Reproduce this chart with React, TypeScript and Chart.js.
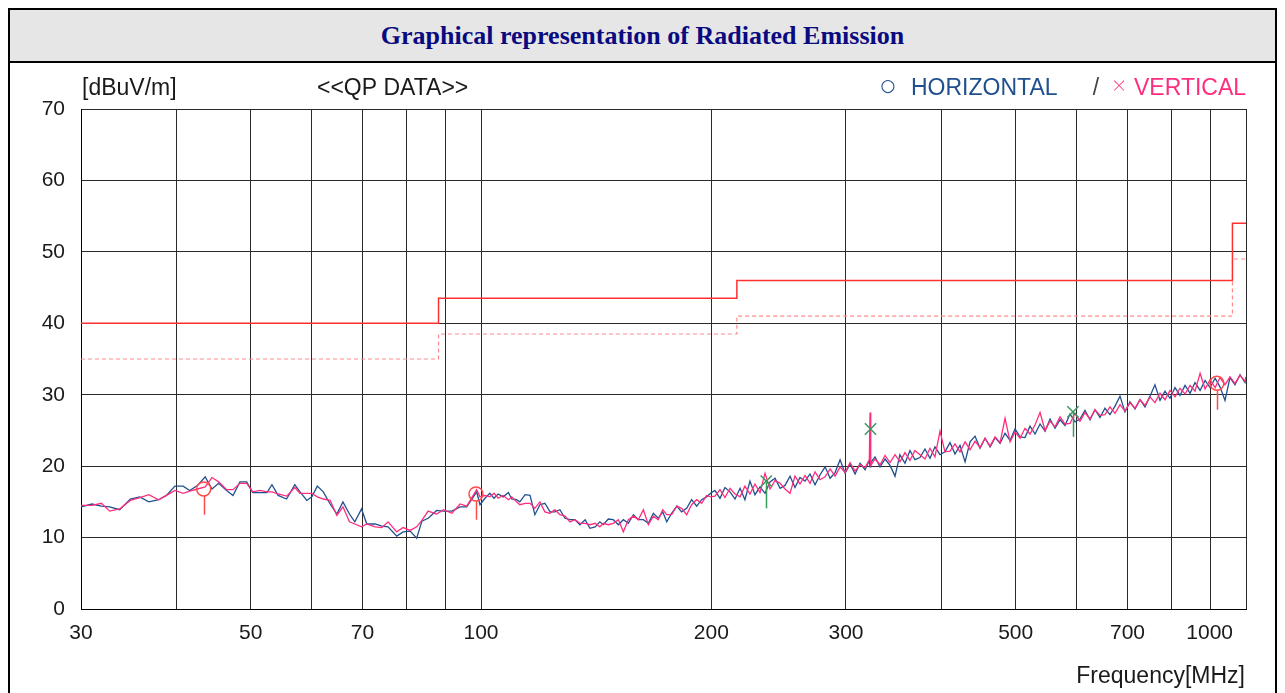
import React, { useEffect, useRef } from 'react';
import { Chart, registerables } from 'chart.js';

Chart.register(...registerables);

const TITLE = 'Graphical representation of Radiated Emission';
const UNIT_LABEL = '[dBuV/m]';
const MODE_LABEL = '<<QP DATA>>';
const X_TITLE = 'Frequency[MHz]';

const FREQ = [
  30.0, 31.0, 31.9, 32.7, 33.7, 34.8, 35.8, 36.8, 37.9, 38.8, 39.8, 40.8, 41.6, 42.6, 43.6, 44.5, 45.4, 46.5, 47.4, 48.4,
  49.4, 50.3, 51.4, 52.5, 53.3, 54.3, 55.7, 57.1, 58.0, 59.2, 60.1, 61.1, 62.2, 63.5, 64.8, 66.0, 67.3, 68.4, 69.8, 70.9,
  72.7, 74.2, 75.6, 77.6, 79.1, 80.8, 82.4, 83.7, 85.3, 87.5, 89.3, 91.6, 93.9, 95.8,
  98.7, 99.7, 101.2, 102.7, 104.0, 105.3, 106.9, 108.6, 109.7, 111.3, 112.4, 114.2, 115.9, 117.6, 119.4, 121.2, 123.1, 124.9, 126.8, 128.8,
  130.7, 132.7, 134.7, 136.8, 138.8, 141.0, 143.0, 144.5, 146.7, 148.9, 151.2, 153.5, 155.8, 158.2, 160.6, 163.0, 165.5, 168.0, 170.5, 172.8,
  174.9, 177.5, 180.3, 182.9, 185.7, 188.5, 191.4, 194.3, 197.2, 199.6,
  202.2, 205.3, 208.4, 211.6, 214.8, 218.1, 221.3, 224.7, 228.1, 231.6, 235.1, 238.7, 242.3, 246.0, 249.7, 253.5, 257.3, 261.2, 265.2, 269.2,
  273.3, 277.5, 281.7, 286.0, 290.3, 294.7, 299.2, 303.7, 308.3, 313.0, 317.7,
  321.8, 322.5, 323.2,
  327.4, 332.4, 337.4, 342.5, 347.7, 352.9, 358.3, 363.7, 369.2, 374.8, 380.5, 386.3, 392.1, 398.1, 404.1, 410.3, 416.5, 422.8, 429.3, 435.8,
  442.4, 449.1, 455.9, 462.9, 469.9, 477.0, 484.2, 491.6, 499.0, 506.6, 514.2, 522.0, 530.0, 538.0, 546.2, 554.4, 562.8, 571.4, 580.0, 588.8,
  597.7, 606.7, 615.9, 625.3, 634.7, 644.4, 654.1, 664.0, 674.2, 684.4, 694.7, 705.3, 716.0, 726.8, 737.9, 749.0, 760.3, 772.0, 783.6, 795.6,
  807.6, 819.8, 832.4, 845.0, 857.8, 870.9, 884.1, 897.4, 911.2, 924.7, 938.7, 953.0, 967.4, 982.2, 997.0, 1000.0,
];

const HORIZONTAL = [
  14.3, 14.7, 14.4, 14.3, 13.9, 15.4, 15.7, 15.0, 15.3, 15.9, 17.2, 17.2, 16.6, 17.3, 18.5, 16.8, 17.6, 16.6, 15.9, 17.8,
  17.8, 16.3, 16.3, 16.3, 17.4, 15.9, 15.4, 17.4, 16.4, 15.2, 15.7, 17.2, 16.4, 14.7, 13.3, 15.0, 13.3, 12.2, 14.0, 11.9,
  11.9, 11.6, 11.5, 10.2, 10.8, 10.9, 9.9, 12.3, 12.7, 13.8, 13.7, 13.7, 14.3, 14.3,
  16.4, 14.6, 15.5, 16.2, 15.5, 16.1, 15.7, 16.3, 15.4, 15.3, 15.0, 16.0, 15.9, 13.2, 14.6, 14.8, 13.6, 13.6, 13.9, 12.7,
  12.5, 12.5, 11.8, 12.5, 11.3, 11.5, 12.2, 11.8, 12.6, 12.5, 11.8, 12.5, 12.0, 13.2, 12.5, 12.5, 12.0, 13.4, 12.7, 13.6,
  12.2, 13.4, 14.4, 13.6, 14.1, 15.3, 14.4, 15.3, 15.7, 16.2,
  16.6, 15.5, 17.0, 16.4, 15.4, 16.9, 15.3, 17.9, 16.0, 17.1, 16.2, 17.8, 18.3, 16.9, 17.3, 18.6, 17.0, 18.4, 17.9, 18.9,
  17.4, 18.8, 19.9, 18.3, 19.1, 20.9, 19.0, 20.3, 18.9, 20.4, 19.5,
  20.8, 19.9, 20.5,
  21.3, 19.9, 21.0, 20.1, 18.6, 21.6, 20.4, 22.2, 20.9, 21.2, 22.4, 21.1, 22.7, 21.6, 22.0, 23.3, 21.7, 22.9, 20.6, 23.4,
  24.2, 22.5, 23.9, 22.7, 24.0, 23.2, 24.6, 23.6, 25.2, 24.1, 24.0, 25.6, 24.5, 25.9, 24.9, 26.6, 25.3, 26.5, 25.7, 27.3,
  26.2, 26.6, 27.8, 26.5, 27.9, 26.8, 28.1, 27.2, 28.4, 29.8, 27.6, 29.0, 28.0, 29.3, 28.3, 29.8, 31.4, 29.2, 30.5, 29.5,
  31.0, 29.9, 31.3, 30.2, 31.7, 30.6, 32.0, 31.0, 32.3, 31.1, 29.2, 32.4, 31.4, 32.8, 31.7, 32.5,
];

const VERTICAL = [
  14.5, 14.5, 14.8, 13.7, 14.0, 15.2, 15.6, 16.0, 15.3, 15.9, 16.6, 16.2, 16.5, 16.8, 17.1, 18.4, 17.8, 16.7, 16.7, 17.6,
  17.6, 16.4, 16.6, 16.4, 16.4, 16.1, 15.8, 17.0, 16.2, 16.2, 16.2, 15.7, 15.4, 15.2, 13.1, 14.3, 12.2, 11.9, 11.5, 11.9,
  11.5, 11.4, 12.2, 10.8, 11.4, 11.0, 11.5, 12.4, 13.7, 13.3, 13.9, 13.4, 14.7, 14.4,
  16.7, 15.7, 15.9, 15.7, 16.2, 15.5, 15.9, 15.3, 15.7, 15.0, 14.6, 14.8, 14.8, 14.1, 15.0, 13.6, 13.4, 13.9, 13.2, 13.0,
  12.2, 12.5, 12.0, 12.0, 11.8, 12.0, 11.5, 12.0, 11.8, 12.0, 12.5, 10.8, 12.5, 13.0, 12.5, 13.9, 11.8, 13.0, 12.5, 13.9,
  13.2, 13.2, 14.4, 14.1, 13.2, 14.6, 15.3, 14.8, 15.9, 15.7,
  15.8, 16.7, 15.6, 16.9, 16.1, 15.7, 17.2, 16.1, 17.5, 16.3, 19.0, 16.8, 18.0, 17.6, 16.8, 16.2, 18.6, 17.5, 18.7, 17.6,
  19.2, 18.1, 18.5, 19.6, 18.6, 19.9, 19.1, 20.5, 19.3, 20.2, 19.8,
  20.9, 27.5, 20.1,
  21.0, 20.2, 21.5, 20.5, 21.6, 20.6, 21.9, 20.8, 22.2, 21.6, 21.0, 22.5, 21.3, 24.9, 22.0, 22.1, 23.1, 22.0, 23.4, 22.3,
  23.5, 22.6, 23.9, 22.8, 24.1, 23.3, 26.7, 23.4, 24.8, 23.9, 25.3, 24.5, 25.8, 27.5, 25.0, 26.3, 25.5, 26.9, 25.9, 26.0,
  27.4, 26.3, 27.5, 26.6, 27.9, 27.1, 27.2, 28.3, 27.4, 28.6, 27.7, 28.9, 28.1, 29.3, 28.5, 29.7, 28.9, 30.2, 29.3, 30.6,
  29.7, 30.9, 30.1, 31.3, 30.5, 33.0, 30.8, 32.1, 31.0, 32.4, 31.4, 32.5, 31.6, 32.7, 31.9, 32.4,
];

const LIMIT_FREQ = [30, 88, 216, 960, 1000];
const LIMIT_QP = [40, 43.5, 46, 54, 54];
const LIMIT_MARGIN = [35, 38.5, 41, 49, 49];

const PEAK_H_FREQ = [43.4, 98.5, 916];
const PEAK_H_VAL = [16.8, 16.1, 31.6];
const PEAK_H_LOW = [13.2, 12.5, 27.9];

const PEAK_V_FREQ = [236, 323, 594];
const PEAK_V_VAL = [17.9, 25.2, 27.6];
const PEAK_V_LOW = [14.1, 25.2, 24.1];

const X_GRID = [30, 40, 50, 60, 70, 80, 90, 100, 200, 300, 400, 500, 600, 700, 800, 900, 1000];
const X_LABELS = [30, 50, 70, 100, 200, 300, 500, 700, 1000];
const Y_MIN = 0;
const Y_MAX = 70;
const Y_STEP = 10;

const SANS = '"Liberation Sans", Arial, Helvetica, sans-serif';
const H_COLOR = '#21508f';
const V_COLOR = '#ff2d7e';
const LIMIT_COLOR = '#ff3030';
const MARGIN_COLOR = '#ff8c8c';
const PEAK_H_COLOR = '#ff4a4a';
const PEAK_V_COLOR = '#3a9a5e';

const CANVAS_W = 1265;
const CANVAS_H = 630;

const stemsPlugin = {
  id: 'stems',
  afterDatasetsDraw(chart: any) {
    const { ctx, scales } = chart;
    const xs = scales.x;
    const ys = scales.y;
    ctx.save();
    ctx.lineWidth = 1.5;
    ctx.strokeStyle = PEAK_H_COLOR;
    PEAK_H_FREQ.forEach((f, i) => {
      const px = Math.round(xs.getPixelForValue(f)) + 0.5;
      ctx.beginPath();
      ctx.moveTo(px, ys.getPixelForValue(PEAK_H_VAL[i]) + 7);
      ctx.lineTo(px, ys.getPixelForValue(PEAK_H_LOW[i]));
      ctx.stroke();
    });
    ctx.strokeStyle = PEAK_V_COLOR;
    PEAK_V_FREQ.forEach((f, i) => {
      if (PEAK_V_LOW[i] >= PEAK_V_VAL[i]) return;
      const px = Math.round(xs.getPixelForValue(f)) + 0.5;
      ctx.beginPath();
      ctx.moveTo(px, ys.getPixelForValue(PEAK_V_VAL[i]));
      ctx.lineTo(px, ys.getPixelForValue(PEAK_V_LOW[i]));
      ctx.stroke();
    });
    ctx.restore();
  },
};

const textPlugin = {
  id: 'extraText',
  afterDraw(chart: any) {
    const { ctx, chartArea: ca, scales } = chart;
    ctx.save();
    ctx.textBaseline = 'middle';
    ctx.font = `23px ${SANS}`;
    const ty = ca.top - 20;
    ctx.fillStyle = '#1a1a1a';
    ctx.textAlign = 'left';
    ctx.fillText(UNIT_LABEL, ca.left + 1, ty);
    ctx.fillText(MODE_LABEL, ca.left + 236, ty);

    ctx.fillStyle = H_COLOR;
    ctx.font = `17px "DejaVu Sans", ${SANS}`;
    ctx.textAlign = 'center';
    ctx.fillText('○', ca.right - 358, ty - 2);
    ctx.font = `23px ${SANS}`;
    ctx.textAlign = 'left';
    ctx.fillText('HORIZONTAL', ca.right - 335, ty);

    ctx.fillStyle = '#444';
    ctx.textAlign = 'center';
    ctx.fillText('/', ca.right - 150, ty);
    ctx.fillStyle = V_COLOR;
    ctx.font = `200 24px "Noto Sans", ${SANS}`;
    ctx.fillText('×', ca.right - 127, ty - 2);
    ctx.font = `23px ${SANS}`;
    ctx.textAlign = 'left';
    ctx.fillText('VERTICAL', ca.right - 112, ty);

    // x tick labels
    ctx.fillStyle = '#1a1a1a';
    ctx.font = `21px ${SANS}`;
    const ly = ca.bottom + 24;
    X_LABELS.forEach((v, i) => {
      const px = scales.x.getPixelForValue(v);
      if (i === X_LABELS.length - 1) {
        ctx.textAlign = 'right';
        ctx.fillText(String(v), px - 13, ly);
      } else {
        ctx.textAlign = 'center';
        ctx.fillText(String(v), px, ly);
      }
    });

    ctx.font = `23px ${SANS}`;
    ctx.textAlign = 'right';
    ctx.fillText(X_TITLE, ca.right - 1, ca.bottom + 68);
    ctx.restore();
  },
};

export default function App() {
  const canvasRef = useRef<HTMLCanvasElement | null>(null);

  useEffect(() => {
    document.documentElement.style.overflow = 'hidden';
    document.body.style.overflow = 'hidden';
    const canvas = canvasRef.current;
    if (!canvas) return;
    const n = Math.min(FREQ.length, HORIZONTAL.length, VERTICAL.length);
    const hData = [] as { x: number; y: number }[];
    const vData = [] as { x: number; y: number }[];
    for (let i = 0; i < n; i++) {
      hData.push({ x: FREQ[i], y: HORIZONTAL[i] });
      vData.push({ x: FREQ[i], y: VERTICAL[i] });
    }
    const limData = LIMIT_FREQ.map((f, i) => ({ x: f, y: LIMIT_QP[i] }));
    const marData = LIMIT_FREQ.map((f, i) => ({ x: f, y: LIMIT_MARGIN[i] }));
    const pkH = PEAK_H_FREQ.map((f, i) => ({ x: f, y: PEAK_H_VAL[i] }));
    const pkV = PEAK_V_FREQ.map((f, i) => ({ x: f, y: PEAK_V_VAL[i] }));

    const chart = new Chart(canvas, {
      type: 'line',
      data: {
        datasets: [
          {
            label: 'H peaks',
            data: pkH,
            showLine: false,
            pointStyle: 'circle',
            pointRadius: 7,
            pointBorderWidth: 1.5,
            pointBorderColor: PEAK_H_COLOR,
            pointBackgroundColor: 'rgba(0,0,0,0)',
            borderColor: PEAK_H_COLOR,
            order: 0,
          },
          {
            label: 'V peaks',
            data: pkV,
            showLine: false,
            pointStyle: 'crossRot',
            pointRadius: 8,
            pointBorderWidth: 1.5,
            pointBorderColor: PEAK_V_COLOR,
            borderColor: PEAK_V_COLOR,
            order: 0,
          },
          {
            label: 'VERTICAL',
            data: vData,
            borderColor: V_COLOR,
            borderWidth: 1.3,
            pointRadius: 0,
            tension: 0,
            order: 1,
          },
          {
            label: 'HORIZONTAL',
            data: hData,
            borderColor: H_COLOR,
            borderWidth: 1.3,
            pointRadius: 0,
            tension: 0,
            order: 2,
          },
          {
            label: 'Limit',
            data: limData,
            borderColor: LIMIT_COLOR,
            borderWidth: 1.5,
            pointRadius: 0,
            stepped: true,
            order: 3,
          },
          {
            label: 'Margin',
            data: marData,
            borderColor: MARGIN_COLOR,
            borderWidth: 1.2,
            borderDash: [4, 3],
            pointRadius: 0,
            stepped: true,
            order: 3,
          },
        ],
      },
      options: {
        animation: false,
        responsive: false,
        events: [],
        layout: { padding: { left: 0, top: 46, right: CANVAS_W - 1236, bottom: 0 } },
        plugins: { legend: { display: false }, tooltip: { enabled: false } },
        scales: {
          x: {
            type: 'logarithmic',
            min: 30,
            max: 1000,
            afterBuildTicks: (s: any) => {
              s.ticks = X_GRID.map((v) => ({ value: v }));
            },
            afterFit: (s: any) => {
              s.height = CANVAS_H - 546;
            },
            ticks: { display: false },
            grid: { color: '#2a2a2a', lineWidth: 1, drawTicks: false },
            border: { color: '#000', width: 1 },
          },
          y: {
            min: Y_MIN,
            max: Y_MAX,
            afterFit: (s: any) => {
              s.width = 71;
            },
            ticks: {
              stepSize: Y_STEP,
              padding: 16,
              color: '#1a1a1a',
              font: { family: SANS, size: 21 },
            },
            grid: { color: '#2a2a2a', lineWidth: 1, drawTicks: false },
            border: { color: '#000', width: 1 },
          },
        },
      },
      plugins: [stemsPlugin, textPlugin],
    } as any);
    return () => chart.destroy();
  }, []);

  return (
    <div
      style={{
        width: 1269,
        boxSizing: 'border-box',
        border: '2px solid #000',
        borderBottom: 'none',
        background: '#fff',
      }}
    >
      <div
        style={{
          height: 51,
          background: '#e6e6e6',
          borderBottom: '2px solid #000',
          display: 'flex',
          alignItems: 'center',
          justifyContent: 'center',
          fontFamily: '"Liberation Serif", "Times New Roman", serif',
          fontWeight: 'bold',
          fontSize: 26,
          color: '#0a0a80',
        }}
      >
        {TITLE}
      </div>
      <canvas ref={canvasRef} width={CANVAS_W} height={CANVAS_H} style={{ display: 'block' }} />
    </div>
  );
}
